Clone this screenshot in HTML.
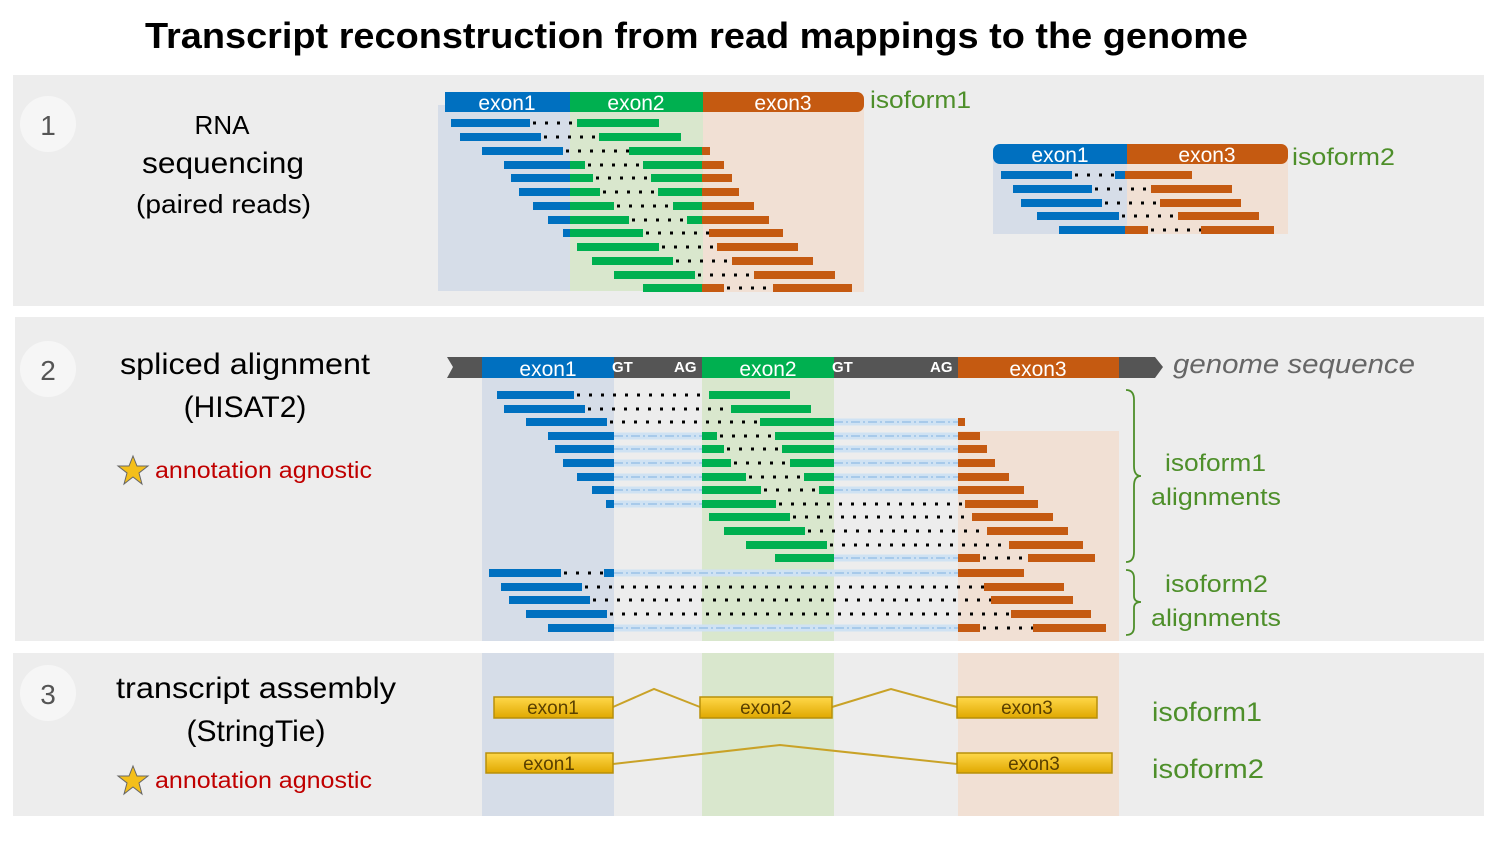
<!DOCTYPE html>
<html><head><meta charset="utf-8"><style>
html,body{margin:0;padding:0;background:#fff;}
svg{display:block;}
.b{fill:#0070c0}.g{fill:#00b050}.o{fill:#c55a11}
.d{stroke:#000;stroke-width:3;stroke-dasharray:3 9}
.dl{stroke:#cfe2f3;stroke-width:7}
.dd{stroke:#9cc2e8;stroke-width:1.5;stroke-dasharray:9 3 2 3}
.t{font-family:"Liberation Sans",sans-serif}
.gl{fill:#4e8f2a;font-family:"Liberation Sans",sans-serif}
.ex{fill:#fff;font-family:"Liberation Sans",sans-serif;font-size:21px;text-anchor:middle}
.yb{fill:url(#gold);stroke:#b8900a;stroke-width:1.5}
.yt{fill:#5a4000;font-family:"Liberation Sans",sans-serif;font-size:19px;text-anchor:middle}
</style></head><body>
<svg width="1500" height="844" viewBox="0 0 1500 844" xmlns="http://www.w3.org/2000/svg">
<defs>
<linearGradient id="gold" x1="0" y1="0" x2="0" y2="1"><stop offset="0" stop-color="#ffd84a"/><stop offset="1" stop-color="#e0a800"/></linearGradient>
</defs>
<text x="145" y="48" class="t" font-size="36" font-weight="bold" fill="#000" textLength="1103" lengthAdjust="spacingAndGlyphs">Transcript reconstruction from read mappings to the genome</text>
<!-- panels -->
<rect x="13" y="75" width="1471" height="231" fill="#ededed"/>
<rect x="15" y="317" width="1469" height="324" fill="#ededed"/>
<rect x="13" y="653" width="1471" height="163" fill="#ededed"/>
<circle cx="48" cy="124" r="28" fill="#f6f6f6"/><text x="48" y="135" class="t" font-size="28" fill="#555" text-anchor="middle">1</text>
<circle cx="48" cy="369" r="28" fill="#f6f6f6"/><text x="48" y="380" class="t" font-size="28" fill="#555" text-anchor="middle">2</text>
<circle cx="48" cy="693" r="28" fill="#f6f6f6"/><text x="48" y="704" class="t" font-size="28" fill="#555" text-anchor="middle">3</text>
<g class="t" fill="#000">
<text x="222" y="134" font-size="26" text-anchor="middle">RNA</text>
<text x="142" y="173" font-size="30" textLength="162" lengthAdjust="spacingAndGlyphs">sequencing</text>
<text x="136" y="213" font-size="26" textLength="175" lengthAdjust="spacingAndGlyphs">(paired reads)</text>
<text x="120" y="374" font-size="30" textLength="250" lengthAdjust="spacingAndGlyphs">spliced alignment</text>
<text x="245" y="417" font-size="30" text-anchor="middle">(HISAT2)</text>
<text x="116" y="698" font-size="30" textLength="280" lengthAdjust="spacingAndGlyphs">transcript assembly</text>
<text x="256" y="741" font-size="30" text-anchor="middle">(StringTie)</text>
</g>
<polygon points="133,456 137,466 148,466 139,473 142,484 133,477 124,484 127,473 118,466 129,466" fill="#f4bf1a" stroke="#666" stroke-width="1"/>
<text x="155" y="478" class="t" font-size="23" fill="#c00000" textLength="217" lengthAdjust="spacingAndGlyphs">annotation agnostic</text>
<polygon points="133,766 137,776 148,776 139,783 142,794 133,787 124,794 127,783 118,776 129,776" fill="#f4bf1a" stroke="#666" stroke-width="1"/>
<text x="155" y="788" class="t" font-size="23" fill="#c00000" textLength="217" lengthAdjust="spacingAndGlyphs">annotation agnostic</text>

<!-- Section 1 isoform1 -->
<rect x="438" y="105" width="132" height="186" fill="#d6dde8"/>
<rect x="570" y="105" width="133" height="186" fill="#d9e7cd"/>
<rect x="703" y="105" width="161" height="187" fill="#f1e0d4"/>
<rect x="445" y="92" width="125" height="20" class="b"/>
<rect x="570" y="92" width="133" height="20" class="g"/>
<path d="M703 92 H857 a7 7 0 0 1 7 7 V105 a7 7 0 0 1 -7 7 H703 Z" class="o"/>
<text x="507" y="110" class="ex">exon1</text><text x="636" y="110" class="ex">exon2</text><text x="783" y="110" class="ex">exon3</text>
<text x="870" y="108" class="gl" font-size="24" textLength="101" lengthAdjust="spacingAndGlyphs">isoform1</text>
<g>
<rect x="451" y="119" width="79" height="8" class="b"/><line x1="533" y1="123" x2="577" y2="123" class="d"/><rect x="577" y="119" width="82" height="8" class="g"/>
<rect x="460" y="133" width="81" height="8" class="b"/><line x1="544" y1="137" x2="599" y2="137" class="d"/><rect x="599" y="133" width="82" height="8" class="g"/>
<rect x="482" y="147" width="81" height="8" class="b"/><line x1="566" y1="151" x2="629" y2="151" class="d"/><rect x="629" y="147" width="73" height="8" class="g"/><rect x="702" y="147" width="8" height="8" class="o"/>
<rect x="504" y="161" width="66" height="8" class="b"/><rect x="570" y="161" width="15" height="8" class="g"/><line x1="588" y1="165" x2="643" y2="165" class="d"/><rect x="643" y="161" width="59" height="8" class="g"/><rect x="702" y="161" width="22" height="8" class="o"/>
<rect x="511" y="174" width="59" height="8" class="b"/><rect x="570" y="174" width="23" height="8" class="g"/><line x1="596" y1="178" x2="651" y2="178" class="d"/><rect x="651" y="174" width="51" height="8" class="g"/><rect x="702" y="174" width="30" height="8" class="o"/>
<rect x="519" y="188" width="51" height="8" class="b"/><rect x="570" y="188" width="30" height="8" class="g"/><line x1="603" y1="192" x2="658" y2="192" class="d"/><rect x="658" y="188" width="44" height="8" class="g"/><rect x="702" y="188" width="37" height="8" class="o"/>
<rect x="533" y="202" width="37" height="8" class="b"/><rect x="570" y="202" width="44" height="8" class="g"/><line x1="617" y1="206" x2="673" y2="206" class="d"/><rect x="673" y="202" width="29" height="8" class="g"/><rect x="702" y="202" width="52" height="8" class="o"/>
<rect x="548" y="216" width="22" height="8" class="b"/><rect x="570" y="216" width="59" height="8" class="g"/><line x1="632" y1="220" x2="687" y2="220" class="d"/><rect x="687" y="216" width="15" height="8" class="g"/><rect x="702" y="216" width="67" height="8" class="o"/>
<rect x="563" y="229" width="7" height="8" class="b"/><rect x="570" y="229" width="73" height="8" class="g"/><line x1="646" y1="233" x2="709" y2="233" class="d"/><rect x="709" y="229" width="74" height="8" class="o"/>
<rect x="577" y="243" width="82" height="8" class="g"/><line x1="662" y1="247" x2="717" y2="247" class="d"/><rect x="717" y="243" width="81" height="8" class="o"/>
<rect x="592" y="257" width="81" height="8" class="g"/><line x1="676" y1="261" x2="732" y2="261" class="d"/><rect x="732" y="257" width="81" height="8" class="o"/>
<rect x="614" y="271" width="81" height="8" class="g"/><line x1="698" y1="275" x2="754" y2="275" class="d"/><rect x="754" y="271" width="81" height="8" class="o"/>
<rect x="643" y="284" width="59" height="8" class="g"/><rect x="702" y="284" width="22" height="8" class="o"/><line x1="727" y1="288" x2="773" y2="288" class="d"/><rect x="773" y="284" width="79" height="8" class="o"/>
</g>

<!-- Section 1 isoform2 -->
<rect x="993" y="160" width="134" height="74" fill="#d6dde8"/>
<rect x="1127" y="160" width="161" height="74" fill="#f1e0d4"/>
<path d="M1000 144 H1127 V164 H1000 a7 7 0 0 1 -7 -7 V151 a7 7 0 0 1 7 -7Z" class="b"/>
<path d="M1127 144 H1281 a7 7 0 0 1 7 7 V157 a7 7 0 0 1 -7 7 H1127Z" class="o"/>
<text x="1060" y="162" class="ex">exon1</text><text x="1207" y="162" class="ex">exon3</text>
<text x="1292" y="165" class="gl" font-size="24" textLength="103" lengthAdjust="spacingAndGlyphs">isoform2</text>
<rect x="1001" y="171" width="71" height="8" class="b"/><line x1="1075" y1="175" x2="1115" y2="175" class="d"/><rect x="1115" y="171" width="10" height="8" class="b"/><rect x="1125" y="171" width="67" height="8" class="o"/>
<rect x="1013" y="185" width="79" height="8" class="b"/><line x1="1095" y1="189" x2="1151" y2="189" class="d"/><rect x="1151" y="185" width="81" height="8" class="o"/>
<rect x="1021" y="199" width="81" height="8" class="b"/><line x1="1105" y1="203" x2="1160" y2="203" class="d"/><rect x="1160" y="199" width="81" height="8" class="o"/>
<rect x="1037" y="212" width="82" height="8" class="b"/><line x1="1122" y1="216" x2="1178" y2="216" class="d"/><rect x="1178" y="212" width="81" height="8" class="o"/>
<rect x="1059" y="226" width="66" height="8" class="b"/><rect x="1125" y="226" width="23" height="8" class="o"/><line x1="1151" y1="230" x2="1201" y2="230" class="d"/><rect x="1201" y="226" width="73" height="8" class="o"/>

<!-- Section 2/3 shadings -->
<rect x="482" y="378" width="132" height="438" fill="#d6dde8"/>
<rect x="702" y="378" width="132" height="438" fill="#d9e7cd"/>
<rect x="958" y="431" width="161" height="385" fill="#f1e0d4"/>
<rect x="13" y="641" width="1471" height="12" fill="#fff"/>
<!-- genome bar -->
<polygon points="447,357 1155,357 1163,367 1155,378 447,378 453,367" fill="#555"/>
<rect x="482" y="357" width="132" height="21" class="b"/>
<rect x="702" y="357" width="132" height="21" class="g"/>
<rect x="958" y="357" width="161" height="21" class="o"/>
<text x="548" y="376" class="ex" font-size="22">exon1</text><text x="768" y="376" class="ex" font-size="22">exon2</text><text x="1038" y="376" class="ex" font-size="22">exon3</text>
<g class="t" font-size="15" font-weight="bold" fill="#fff"><text x="612" y="372">GT</text><text x="674" y="372">AG</text><text x="832" y="372">GT</text><text x="930" y="372">AG</text></g>
<text x="1173" y="373" class="t" font-size="27" font-style="italic" fill="#666" textLength="242" lengthAdjust="spacingAndGlyphs">genome sequence</text>

<!-- dashed intron connectors -->
<g>
<line x1="834" y1="422" x2="958" y2="422" class="dl"/>
<line x1="614" y1="436" x2="702" y2="436" class="dl"/><line x1="834" y1="436" x2="958" y2="436" class="dl"/>
<line x1="614" y1="449" x2="702" y2="449" class="dl"/><line x1="834" y1="449" x2="958" y2="449" class="dl"/>
<line x1="614" y1="463" x2="702" y2="463" class="dl"/><line x1="834" y1="463" x2="958" y2="463" class="dl"/>
<line x1="614" y1="477" x2="702" y2="477" class="dl"/><line x1="834" y1="477" x2="958" y2="477" class="dl"/>
<line x1="614" y1="490" x2="702" y2="490" class="dl"/><line x1="834" y1="490" x2="958" y2="490" class="dl"/>
<line x1="614" y1="504" x2="702" y2="504" class="dl"/>
<line x1="834" y1="558" x2="958" y2="558" class="dl"/>
<line x1="614" y1="573" x2="958" y2="573" class="dl"/>
<line x1="614" y1="628" x2="958" y2="628" class="dl"/>
<line x1="834" y1="422" x2="958" y2="422" class="dd"/>
<line x1="614" y1="436" x2="702" y2="436" class="dd"/><line x1="834" y1="436" x2="958" y2="436" class="dd"/>
<line x1="614" y1="449" x2="702" y2="449" class="dd"/><line x1="834" y1="449" x2="958" y2="449" class="dd"/>
<line x1="614" y1="463" x2="702" y2="463" class="dd"/><line x1="834" y1="463" x2="958" y2="463" class="dd"/>
<line x1="614" y1="477" x2="702" y2="477" class="dd"/><line x1="834" y1="477" x2="958" y2="477" class="dd"/>
<line x1="614" y1="490" x2="702" y2="490" class="dd"/><line x1="834" y1="490" x2="958" y2="490" class="dd"/>
<line x1="614" y1="504" x2="702" y2="504" class="dd"/>
<line x1="834" y1="558" x2="958" y2="558" class="dd"/>
<line x1="614" y1="573" x2="958" y2="573" class="dd"/>
<line x1="614" y1="628" x2="958" y2="628" class="dd"/>
</g>
<!-- section 2 reads -->
<g>
<rect x="497" y="391" width="77" height="8" class="b"/><line x1="577" y1="395" x2="709" y2="395" class="d"/><rect x="709" y="391" width="81" height="8" class="g"/>
<rect x="504" y="405" width="81" height="8" class="b"/><line x1="588" y1="409" x2="731" y2="409" class="d"/><rect x="731" y="405" width="80" height="8" class="g"/>
<rect x="526" y="418" width="81" height="8" class="b"/><line x1="610" y1="422" x2="760" y2="422" class="d"/><rect x="760" y="418" width="74" height="8" class="g"/><rect x="958" y="418" width="7" height="8" class="o"/>
<rect x="548" y="432" width="66" height="8" class="b"/><rect x="702" y="432" width="15" height="8" class="g"/><line x1="720" y1="436" x2="775" y2="436" class="d"/><rect x="775" y="432" width="59" height="8" class="g"/><rect x="958" y="432" width="22" height="8" class="o"/>
<rect x="555" y="445" width="59" height="8" class="b"/><rect x="702" y="445" width="22" height="8" class="g"/><line x1="727" y1="449" x2="782" y2="449" class="d"/><rect x="782" y="445" width="52" height="8" class="g"/><rect x="958" y="445" width="29" height="8" class="o"/>
<rect x="563" y="459" width="51" height="8" class="b"/><rect x="702" y="459" width="29" height="8" class="g"/><line x1="734" y1="463" x2="790" y2="463" class="d"/><rect x="790" y="459" width="44" height="8" class="g"/><rect x="958" y="459" width="37" height="8" class="o"/>
<rect x="577" y="473" width="37" height="8" class="b"/><rect x="702" y="473" width="44" height="8" class="g"/><line x1="749" y1="477" x2="804" y2="477" class="d"/><rect x="804" y="473" width="30" height="8" class="g"/><rect x="958" y="473" width="51" height="8" class="o"/>
<rect x="592" y="486" width="22" height="8" class="b"/><rect x="702" y="486" width="59" height="8" class="g"/><line x1="764" y1="490" x2="819" y2="490" class="d"/><rect x="819" y="486" width="15" height="8" class="g"/><rect x="958" y="486" width="66" height="8" class="o"/>
<rect x="606" y="500" width="8" height="8" class="b"/><rect x="702" y="500" width="74" height="8" class="g"/><line x1="779" y1="504" x2="965" y2="504" class="d"/><rect x="965" y="500" width="73" height="8" class="o"/>
<rect x="709" y="513" width="81" height="8" class="g"/><line x1="793" y1="517" x2="972" y2="517" class="d"/><rect x="972" y="513" width="81" height="8" class="o"/>
<rect x="724" y="527" width="81" height="8" class="g"/><line x1="808" y1="531" x2="987" y2="531" class="d"/><rect x="987" y="527" width="81" height="8" class="o"/>
<rect x="746" y="541" width="81" height="8" class="g"/><line x1="830" y1="545" x2="1009" y2="545" class="d"/><rect x="1009" y="541" width="74" height="8" class="o"/>
<rect x="775" y="554" width="59" height="8" class="g"/><rect x="958" y="554" width="22" height="8" class="o"/><line x1="983" y1="558" x2="1028" y2="558" class="d"/><rect x="1028" y="554" width="67" height="8" class="o"/>
<rect x="489" y="569" width="72" height="8" class="b"/><line x1="564" y1="573" x2="604" y2="573" class="d"/><rect x="604" y="569" width="10" height="8" class="b"/><rect x="958" y="569" width="66" height="8" class="o"/>
<rect x="501" y="583" width="81" height="8" class="b"/><line x1="585" y1="587" x2="984" y2="587" class="d"/><rect x="984" y="583" width="80" height="8" class="o"/>
<rect x="509" y="596" width="81" height="8" class="b"/><line x1="593" y1="600" x2="991" y2="600" class="d"/><rect x="991" y="596" width="82" height="8" class="o"/>
<rect x="526" y="610" width="81" height="8" class="b"/><line x1="610" y1="614" x2="1011" y2="614" class="d"/><rect x="1011" y="610" width="80" height="8" class="o"/>
<rect x="548" y="624" width="66" height="8" class="b"/><rect x="958" y="624" width="22" height="8" class="o"/><line x1="983" y1="628" x2="1033" y2="628" class="d"/><rect x="1033" y="624" width="73" height="8" class="o"/>
</g>
<!-- braces -->
<path d="M1126 390 Q1134 390 1134 400 V466 Q1134 476 1141 476 Q1134 476 1134 486 V552 Q1134 562 1126 562" fill="none" stroke="#4e8f2a" stroke-width="1.8"/>
<path d="M1126 570 Q1134 570 1134 578 V596 Q1134 602 1141 602 Q1134 602 1134 608 V627 Q1134 635 1126 635" fill="none" stroke="#4e8f2a" stroke-width="1.8"/>
<g class="gl" font-size="24">
<text x="1165" y="471" textLength="101" lengthAdjust="spacingAndGlyphs">isoform1</text><text x="1151" y="505" textLength="130" lengthAdjust="spacingAndGlyphs">alignments</text>
<text x="1165" y="592" textLength="103" lengthAdjust="spacingAndGlyphs">isoform2</text><text x="1151" y="626" textLength="130" lengthAdjust="spacingAndGlyphs">alignments</text>
</g>

<!-- section 3 -->
<polyline points="613,707 654,689 700,707" fill="none" stroke="#c9a227" stroke-width="2"/>
<polyline points="832,707 891,689 957,707" fill="none" stroke="#c9a227" stroke-width="2"/>
<polyline points="613,764 780,745 957,764" fill="none" stroke="#c9a227" stroke-width="2"/>
<rect x="494" y="697" width="119" height="21" class="yb"/><text x="553" y="714" class="yt">exon1</text>
<rect x="700" y="697" width="132" height="21" class="yb"/><text x="766" y="714" class="yt">exon2</text>
<rect x="957" y="697" width="140" height="21" class="yb"/><text x="1027" y="714" class="yt">exon3</text>
<rect x="486" y="753" width="127" height="20" class="yb"/><text x="549" y="770" class="yt">exon1</text>
<rect x="957" y="753" width="155" height="20" class="yb"/><text x="1034" y="770" class="yt">exon3</text>
<text x="1152" y="721" class="gl" font-size="27" textLength="110" lengthAdjust="spacingAndGlyphs">isoform1</text>
<text x="1152" y="778" class="gl" font-size="27" textLength="112" lengthAdjust="spacingAndGlyphs">isoform2</text>
</svg>
</body></html>
